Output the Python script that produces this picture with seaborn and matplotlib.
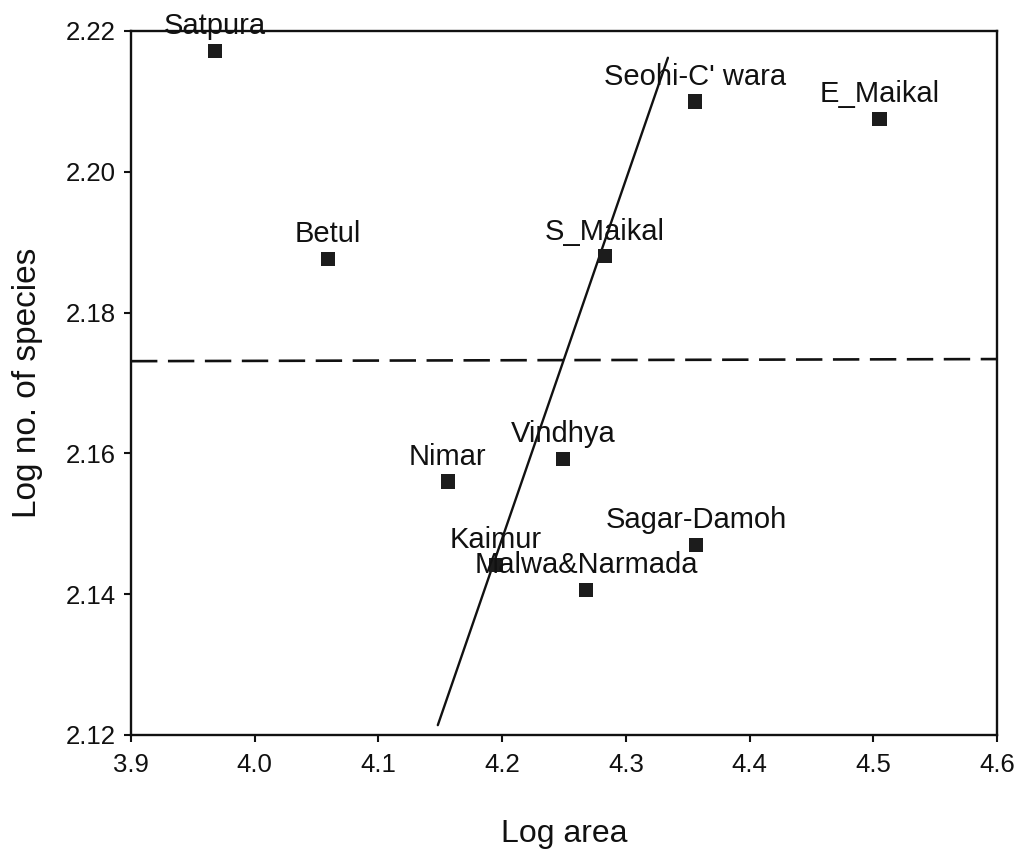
import matplotlib
matplotlib.use("Agg")
import matplotlib.pyplot as plt
import pandas as pd
import seaborn as sns

# Forest regions: log10 of area against log10 of species count
regions = ["Satpura", "Betul", "S_Maikal", "Seohi-C' wara", "E_Maikal",
           "Nimar", "Vindhya", "Kaimur", "Malwa&Narmada", "Sagar-Damoh"]
log_area = [3.968, 4.059, 4.283, 4.356, 4.505, 4.156, 4.249, 4.195, 4.268, 4.357]
log_species = [2.2172, 2.1876, 2.1880, 2.2100, 2.2075,
               2.1560, 2.1592, 2.1442, 2.1406, 2.1470]

# Two fitted lines (solid: steep fit, dashed: near-flat fit)
solid_fit_x = [4.148, 4.334]
solid_fit_y = [2.1214, 2.2162]
dashed_fit_x = [3.9, 4.6]
dashed_fit_y = [2.1731, 2.1734]

x_ticks = [3.9, 4.0, 4.1, 4.2, 4.3, 4.4, 4.5, 4.6]
y_ticks = [2.12, 2.14, 2.16, 2.18, 2.20, 2.22]

df = pd.DataFrame({"region": regions, "log_area": log_area, "log_species": log_species})

sns.set_theme(style="ticks")
plt.rcParams["font.family"] = ["Liberation Sans", "DejaVu Sans"]

fig = plt.figure(figsize=(10.29, 8.51), dpi=100)
ax = fig.add_axes([131 / 1029, 1 - 735 / 851, (997 - 131) / 1029, (735 - 31) / 851])

ink = "#111111"

sns.lineplot(x=solid_fit_x, y=solid_fit_y, ax=ax, color=ink, linewidth=1.7,
             estimator=None, sort=False)
sns.lineplot(x=dashed_fit_x, y=dashed_fit_y, ax=ax, color=ink, linewidth=1.9,
             estimator=None, sort=False, dashes=False)
ax.lines[-1].set_dashes((10.0, 4.0))

sns.scatterplot(data=df, x="log_area", y="log_species", ax=ax, marker="s",
                s=105, color="#1c1c1c", edgecolor="none", zorder=3)

for name, xv, yv in zip(regions, log_area, log_species):
    ax.annotate(name, (xv, yv), xytext=(0, 12), textcoords="offset points",
                ha="center", va="baseline", fontsize=21, color=ink,
                annotation_clip=False, zorder=4)

ax.set_xlim(3.9, 4.6)
ax.set_ylim(2.12, 2.22)
ax.set_xticks(x_ticks)
ax.set_xticklabels([f"{v:.1f}" for v in x_ticks])
ax.set_yticks(y_ticks)
ax.set_yticklabels([f"{v:.2f}" for v in y_ticks])

for side in ["left", "right", "top", "bottom"]:
    ax.spines[side].set_visible(True)
    ax.spines[side].set_color(ink)
    ax.spines[side].set_linewidth(1.7)

ax.tick_params(axis="both", which="major", direction="out", length=5, width=1.5,
               colors=ink, labelsize=18.5, top=False, right=False)
ax.tick_params(axis="x", pad=8)
ax.tick_params(axis="y", pad=6)

ax.set_xlabel("Log area", fontsize=23, color=ink, labelpad=30)
ax.set_ylabel("Log no. of species", fontsize=24, color=ink, labelpad=16)

fig.savefig("out.png", dpi=100, facecolor="white")
